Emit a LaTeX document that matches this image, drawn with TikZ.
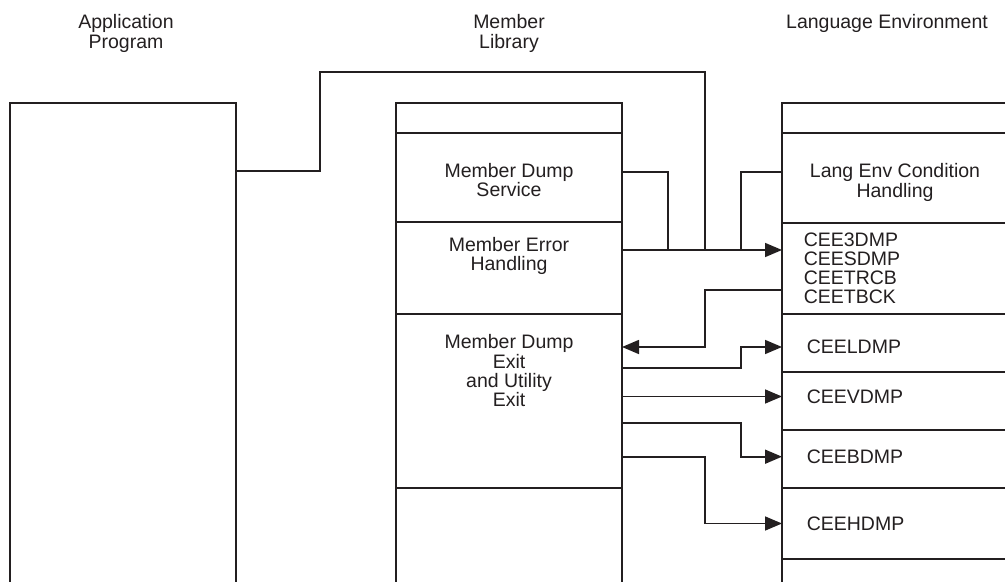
\documentclass[tikz,border=0pt]{standalone}
\usepackage{fontspec}
\setmainfont{Liberation Sans}
\usetikzlibrary{positioning,arrows.meta}
\definecolor{ink}{HTML}{231F20}

\begin{document}
\begin{tikzpicture}[
  x=0.5pt, y=-0.5pt,
  line width=0.8pt, color=ink,
  font=\fontsize{9.75}{9.6}\selectfont,
  comp/.style={draw, outer sep=0pt, inner sep=0pt, minimum width=113pt},
  txt/.style={align=center, inner sep=0pt},
  arrow/.style={-{Triangle[length=8.5pt,width=7pt]}}
]
\useasboundingbox (0,0) rectangle (1005,582);
\clip (0,0) rectangle (1005,582);

% column titles
\node[txt, anchor=north] (apphead) at (126,14) {Application\\Program};
\node[txt, anchor=north] (libhead) at (509,14) {Member\\Library};
\node[txt, anchor=north] (envhead) at (887,14) {Language Environment};

% application program
\node[comp, anchor=north west, minimum height=248.5pt] (app) at (10,103) {};

% member library
\node[comp, anchor=north west, minimum height=15pt] (libtop) at (396,103) {};
\node[comp, below=0pt of libtop, minimum height=44.5pt] (svc) {};
\node[comp, below=0pt of svc, minimum height=46pt] (err) {};
\node[comp, below=0pt of err, minimum height=87pt] (exit) {};
\node[comp, below=0pt of exit, minimum height=56pt] (libbot) {};
\node[txt, below=14.85pt of svc.north] (svct) {Member Dump\\Service};
\node[txt, below=7.35pt of err.north] (errt) {Member Error\\Handling};
\node[txt, below=10pt of exit.north] (exitt) {Member Dump\\Exit\\and Utility\\Exit};

% language environment
\node[comp, anchor=north west, minimum height=15pt] (envtop) at (782,103) {};
\node[comp, below=0pt of envtop, minimum height=45pt] (cond) {};
\node[comp, below=0pt of cond, minimum height=45.5pt] (dmp) {};
\node[comp, below=0pt of dmp, minimum height=29pt] (ldmp) {};
\node[comp, below=0pt of ldmp, minimum height=29pt] (vdmp) {};
\node[comp, below=0pt of vdmp, minimum height=29pt] (bdmp) {};
\node[comp, below=0pt of bdmp, minimum height=35.5pt] (hdmp) {};
\node[comp, below=0pt of hdmp, minimum height=20.5pt] (envbot) {};
\node[txt, below=15pt of cond.north] (condt) {Lang Env Condition\\Handling};
\node[txt, align=left, below right=4.35pt and 10.5pt of dmp.north west] (dmpt) {CEE3DMP\\CEESDMP\\CEETRCB\\CEETBCK};
\node[txt, right=12pt of ldmp.west, yshift=-2pt] (ldmpt) {CEELDMP};
\node[txt, right=12pt of vdmp.west, yshift=2.25pt] (vdmpt) {CEEVDMP};
\node[txt, right=12pt of bdmp.west, yshift=1.15pt] (bdmpt) {CEEBDMP};
\node[txt, right=12pt of hdmp.west] (hdmpt) {CEEHDMP};

% lanes for the connectors
\coordinate (laneA) at (320,72);
\coordinate (laneB) at (668,0);
\coordinate (laneC) at (705,0);
\coordinate (laneD) at (741,0);
\coordinate (join) at (0,250);

\draw (app.east |- 0,171) -| (laneA) -| (laneC |- join);
\draw (svc.east |- 0,172) -| (laneB |- join);
\draw (cond.west |- 0,172) -| (laneD |- join);
\draw[arrow] (err.east |- join) -- (dmp.west |- join);
\draw[arrow] (dmp.west |- 0,290) -| (laneC |- ldmpt) -- (exit.east |- ldmpt);
\draw[arrow] (exit.east |- 0,368) -| (laneD |- ldmpt) -- (ldmp.west |- ldmpt);
\draw[arrow] (exit.east |- vdmpt) -- (vdmp.west |- vdmpt);
\draw[arrow] (exit.east |- 0,423) -| (laneD |- bdmpt) -- (bdmp.west |- bdmpt);
\draw[arrow] (exit.east |- 0,457) -| (laneC |- hdmpt) -- (hdmp.west |- hdmpt);
\end{tikzpicture}
\end{document}
